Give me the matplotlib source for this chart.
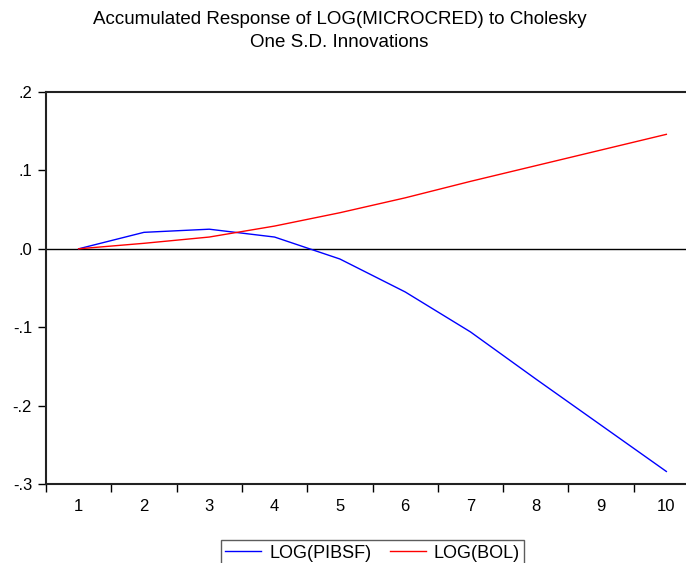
import matplotlib
matplotlib.use("Agg")
import matplotlib.pyplot as plt
import numpy as np

plt.rcParams["font.family"] = ["Liberation Sans", "DejaVu Sans"]

# accumulated impulse responses, periods 1..10
periods = np.arange(1, 11)
resp_pibsf = [0.0, 0.021, 0.025, 0.015, -0.013, -0.055, -0.106, -0.166, -0.225, -0.284]
resp_bol = [0.0, 0.007, 0.015, 0.029, 0.046, 0.065, 0.086, 0.106, 0.126, 0.146]
yticks = [-0.3, -0.2, -0.1, 0.0, 0.1, 0.2]
ytick_labels = ["-.3", "-.2", "-.1", ".0", ".1", ".2"]

W, H = 686, 563
fig = plt.figure(figsize=(W / 100, H / 100), dpi=100)
# frame runs past the right edge of the canvas
ax = fig.add_axes([46 / W, 1 - 484 / H, 653 / W, 392 / H])

ax.plot(periods, resp_pibsf, color="#0000ff", lw=1.0, label="LOG(PIBSF)")
ax.plot(periods, resp_bol, color="#ff0000", lw=1.0, label="LOG(BOL)")
ax.axhline(0, color="black", lw=1.0, zorder=1)

ax.set_xlim(0.5, 10.5)
ax.set_ylim(-0.3, 0.2)

ax.set_yticks(yticks)
ax.set_yticklabels(ytick_labels)
ax.set_xticks(periods)
ax.set_xticks(np.arange(0.5, 11, 1.0), minor=True)
ax.tick_params(axis="x", which="major", length=0, pad=11, labelsize=12)
ax.tick_params(axis="x", which="minor", length=6, width=1.0, direction="out")
ax.tick_params(axis="y", length=6, width=1.0, pad=4, labelsize=12)

for side in ("left", "top", "bottom"):
    ax.spines[side].set_linewidth(1.5)
    ax.spines[side].set_color("#222222")
ax.spines["right"].set_visible(False)

fig.suptitle("Accumulated Response of LOG(MICROCRED) to Cholesky\nOne S.D. Innovations",
             x=0.495, y=1 - 11 / H, fontsize=13.5, linespacing=1.45, va="top")

leg = ax.legend(loc="upper center", bbox_to_anchor=(0.5, -0.1429), ncol=2,
                fontsize=13, frameon=True, fancybox=False, handlelength=2.0,
                handletextpad=0.45, columnspacing=1.0, borderpad=0.25,
                borderaxespad=0)
leg.get_frame().set_edgecolor("#333333")
leg.get_frame().set_linewidth(1.0)

fig.savefig("out.png", dpi=100)
